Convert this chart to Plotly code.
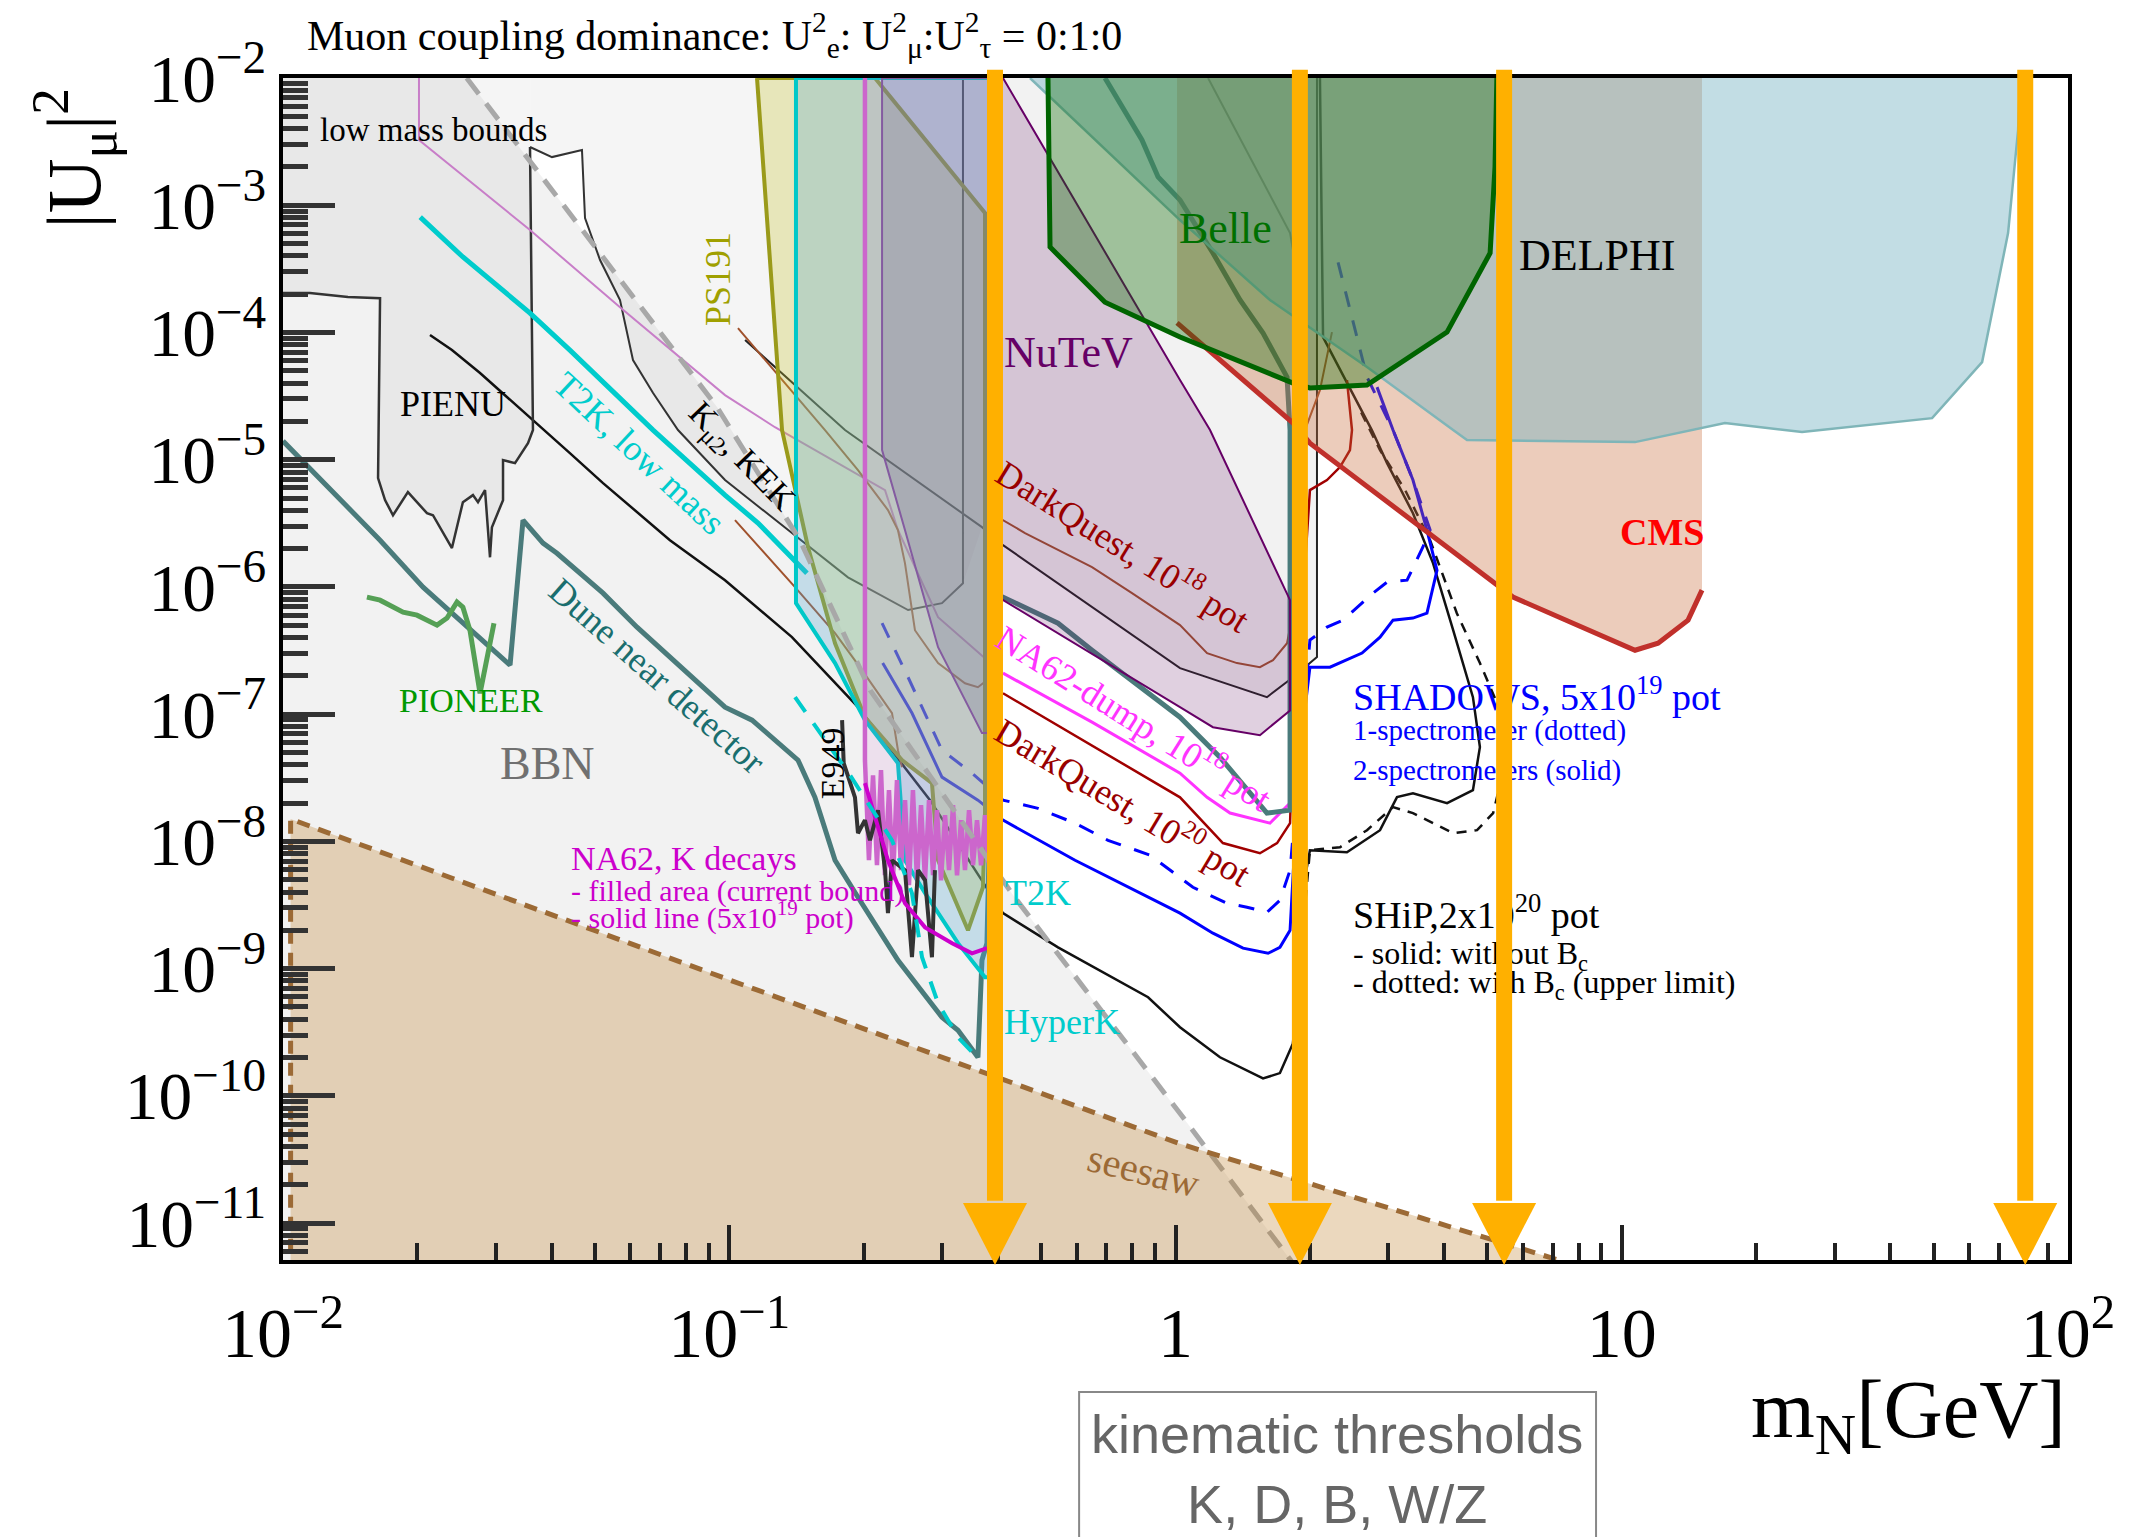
import numpy as np
import plotly.graph_objects as go

SERIF = "Liberation Serif"
SANS = "Liberation Sans"

X_RANGE = [-2.0, 2.0]      # log10(m_N / GeV)
Y_RANGE = [-11.29, -2.0]   # log10(|U_mu|^2)
U_TOP = 1e-2
U_BOT = 4e-12
M_LEFT = 0.0095

# ---------------- contours: m_N [GeV] vs |U_mu|^2 ----------------
bbn_m = [0.0258, 0.0939, 0.144, 0.207, 0.436, 1.023, 1.82]
bbn_u = [1.0e-2, 2.59e-5, 2.33e-6, 1.54e-7, 3.64e-9, 7.3e-11, 5.0e-12]

seesaw_m = [0.0104, 0.0104, 0.0978, 1.023, 7.38]
seesaw_u = [4.0e-12, 1.5e-8, 8.4e-10, 4.2e-11, 5.0e-12]

pienu_m = [0.0095, 0.01149, 0.01398, 0.0165, 0.01633, 0.01693, 0.01764, 0.01905, 0.02102,
           0.02168, 0.02391, 0.0253, 0.02665, 0.02735, 0.02836, 0.0291, 0.02939, 0.03112,
           0.03112, 0.03311, 0.0354, 0.03632, 0.03577]
pienu_u = [2.04e-4, 2.04e-4, 1.90e-4, 1.86e-4, 7.16e-6, 4.81e-6, 3.66e-6, 5.56e-6, 3.80e-6,
           3.66e-6, 2.02e-6, 4.64e-6, 5.27e-6, 4.64e-6, 5.77e-6, 1.71e-6, 2.95e-6, 4.81e-6,
           9.93e-6, 9.40e-6, 1.35e-5, 1.71e-5, 2.87e-3]

kmu2_m = [0.03577, 0.04006, 0.04677, 0.04751, 0.05134, 0.05691, 0.06085, 0.0675, 0.07676,
          0.09784, 0.1382, 0.1845, 0.2516, 0.2997, 0.334, 0.334]
kmu2_u = [2.87e-3, 2.39e-3, 2.72e-3, 7.93e-4, 3.71e-4, 1.80e-4, 6.07e-5, 3.34e-5, 1.71e-5,
          6.92e-6, 2.65e-6, 1.19e-6, 6.58e-7, 7.46e-7, 1.07e-6, 1.0e-2]

env_m = [0.1085, 0.1817, 0.3684, 0.4106, 1.0235, 1.603, 1.834, 2.075, 2.075]
env_u = [8.71e-5, 1.71e-5, 2.95e-6, 2.13e-6, 2.30e-7, 1.36e-7, 1.95e-7, 2.81e-7, 1.0e-2]

ps191_m = [0.1154, 0.1313, 0.1501, 0.1726, 0.2014, 0.2438, 0.2846, 0.2937, 0.3428, 0.3703,
           0.3742, 0.3742, 0.2121, 0.1154]
ps191_u = [1e-2, 1.71e-5, 2.06e-6, 3.61e-7, 9.46e-8, 4.35e-8, 2.87e-8, 7.11e-9, 2.0e-9, 4.36e-9,
           1.67e-8, 8.69e-4, 1e-2, 1e-2]

t2k_m = [0.1411, 0.1411, 0.1726, 0.2014, 0.2388, 0.2476, 0.2747, 0.3255, 0.3742, 0.384, 0.384, 0.1411]
t2k_u = [1e-2, 7.46e-7, 2.52e-7, 8.97e-8, 4.12e-8, 7.11e-9, 3.92e-9, 1.585e-9, 8.55e-10, 8.55e-10, 1e-2, 1e-2]

charm_m = [0.220, 0.220, 0.2476, 0.2937, 0.3684, 0.384, 0.384, 0.220]
charm_u = [1e-2, 1.19e-5, 2.80e-6, 3.36e-7, 7.10e-8, 7.10e-8, 1e-2, 1e-2]

na62k_m = [0.2014, 0.2014, 0.2056, 0.2100, 0.2143, 0.2188, 0.2233, 0.2280, 0.2328, 0.2376,
           0.2426, 0.2477, 0.2528, 0.2580, 0.2635, 0.2690, 0.2746, 0.2803, 0.2862, 0.2921,
           0.2982, 0.3045, 0.3108, 0.3173, 0.3239, 0.3307, 0.3375, 0.3446, 0.3518, 0.3591,
           0.3666, 0.3742, 0.3800, 0.385, 0.385]
na62k_u = [1e-2, 4.35e-8, 7.11e-9, 3.31e-8, 6.5e-9, 3.63e-8, 5.42e-9, 2.53e-8, 4.95e-9, 3.03e-8,
           5.94e-9, 2.11e-8, 4.53e-9, 2.53e-8, 4.95e-9, 1.93e-8, 4.95e-9, 2.11e-8, 5.42e-9, 1.76e-8,
           4.95e-9, 1.61e-8, 5.94e-9, 1.93e-8, 5.42e-9, 1.47e-8, 5.94e-9, 1.76e-8, 6.5e-9, 1.47e-8,
           6.5e-9, 1.61e-8, 7.11e-9, 7.11e-9, 1e-2]

na62proj_m = [0.2014, 0.2268, 0.2476, 0.2747, 0.3157, 0.35, 0.378]
na62proj_u = [2.87e-8, 7.11e-9, 3.27e-9, 2.11e-9, 1.585e-9, 1.32e-9, 1.45e-9]

e949_m = [0.179, 0.1805, 0.1913, 0.1943, 0.2014, 0.2067, 0.2154, 0.2234, 0.2268, 0.2316,
          0.2476, 0.2567, 0.2649, 0.2747, 0.2846, 0.289]
e949_u = [8.97e-8, 4.12e-8, 2.22e-8, 1.16e-8, 1.47e-8, 1.02e-8, 1.76e-8, 5.94e-9, 2.73e-9, 7.11e-9,
          5.94e-9, 1.23e-9, 5.94e-9, 4.95e-9, 1.23e-9, 5.94e-9]

nutev_m = [0.384, 0.4106, 1.0235, 1.195, 1.806, 1.806, 1.546, 1.213, 1.0235, 0.4106, 0.384]
nutev_u = [1e-2, 1e-2, 4.23e-5, 1.71e-5, 7.87e-7, 1.07e-7, 6.84e-8, 7.90e-8, 1.135e-7, 7.87e-7, 9.1e-7]

belle_m = [0.5179, 0.5234, 0.695, 1.0235, 1.834, 2.001, 2.686, 4.06, 5.07, 5.20, 5.25]
belle_u = [1e-2, 4.69e-4, 1.73e-4, 9.2e-5, 4.0e-5, 3.66e-5, 3.86e-5, 1.007e-4, 4.21e-4, 2.0e-3, 1e-2]

cms_m = [1.008, 1.008, 1.834, 2.001, 5.705, 10.71, 12.06, 14.08, 15.13, 15.13]
cms_u = [1e-2, 1.19e-4, 1.94e-5, 1.35e-5, 8.32e-7, 3.18e-7, 3.61e-7, 5.48e-7, 9.44e-7, 1e-2]

delphi_m = [0.472, 1.0235, 1.628, 2.686, 4.19, 4.50, 10.71, 17.03, 25.35, 49.6, 64.2, 73.4, 77.3, 78.1]
delphi_u = [1e-2, 7.65e-4, 1.80e-4, 5.35e-5, 1.71e-5, 1.43e-5, 1.375e-5, 1.94e-5, 1.65e-5, 2.12e-5,
            5.85e-5, 6.04e-4, 3.90e-3, 1e-2]

grey_m = [1.183, 1.806, 1.834]
grey_u = [1e-2, 6.04e-4, 4.45e-4]

ship_m = [0.02135, 0.02391, 0.02764, 0.03577, 0.04394, 0.05214, 0.07364, 0.09784, 0.1382, 0.1943,
          0.2818, 0.4106, 0.5454, 0.868, 1.0235, 1.258, 1.571, 1.714, 1.834, 1.91, 2.001, 2.422,
          2.873, 3.136, 3.405, 4.06, 4.64, 4.81, 4.64, 4.19, 3.776, 3.405, 2.979, 2.754, 2.141, 2.107]
ship_u = [9.54e-5, 7.27e-5, 4.80e-5, 2.16e-5, 1.127e-5, 6.55e-6, 2.33e-6, 1.13e-6, 4.03e-7, 1.135e-7,
          2.11e-8, 2.73e-9, 1.47e-9, 5.96e-10, 3.46e-10, 2.01e-10, 1.37e-10, 1.51e-10, 2.59e-10, 3.45e-9,
          8.53e-9, 8.22e-9, 1.225e-8, 2.23e-8, 2.39e-8, 2.0e-8, 2.53e-8, 5.51e-8, 1.36e-7, 4.57e-7,
          1.54e-6, 3.80e-6, 9.40e-6, 1.71e-5, 9.2e-5, 1e-2]

shipbc_m = [1.834, 2.001, 2.337, 2.686, 3.072, 3.405, 4.19, 4.74, 5.15, 5.50, 5.34, 4.81, 4.27,
            3.72, 3.27, 2.873, 2.591]
shipbc_u = [2.59e-10, 8.53e-9, 9.0e-9, 1.225e-8, 1.86e-8, 1.67e-8, 1.16e-8, 1.225e-8, 1.67e-8,
            4.35e-8, 1.07e-7, 2.52e-7, 6.22e-7, 2.33e-6, 5.77e-6, 1.19e-5, 2.45e-5]

dune_m = [0.0100, 0.01363, 0.01650, 0.02060, 0.03227, 0.03450, 0.03825, 0.04111, 0.05214, 0.06213,
          0.09784, 0.1125, 0.1266, 0.1426, 0.1556, 0.1726, 0.1943, 0.2388, 0.2997, 0.3255, 0.3608,
          0.3684, 0.3780, 0.394, 0.4106, 0.5454, 0.650, 1.0235, 1.258, 1.603, 1.806, 1.806, 1.778,
          1.571, 1.395, 1.213, 1.0235, 0.914, 0.841, 0.759, 0.695]
dune_u = [1.40e-5, 4.56e-6, 2.33e-6, 9.96e-7, 2.43e-7, 3.35e-6, 2.21e-6, 1.84e-6, 8.93e-7, 4.83e-7,
          1.135e-7, 8.97e-8, 6.25e-8, 4.35e-8, 2.22e-8, 7.11e-9, 3.64e-9, 1.164e-9, 4.15e-10, 3.28e-10,
          2.01e-10, 1.164e-9, 1.585e-9, 7.87e-7, 8.32e-7, 5.19e-7, 3.18e-7, 9.46e-8, 4.59e-8, 1.67e-8,
          1.76e-8, 1.71e-5, 4.46e-5, 9.89e-5, 1.80e-4, 4.21e-4, 1.10e-3, 1.67e-3, 3.26e-3, 5.92e-3, 1.0e-2]

t2klow_m = [0.0203, 0.0253, 0.03577, 0.04394, 0.0675, 0.09784, 0.1160, 0.1266, 0.1493]
t2klow_u = [8.07e-4, 3.92e-4, 1.42e-4, 7.27e-5, 1.71e-5, 5.27e-6, 3.18e-6, 2.33e-6, 1.28e-6]

hyperk_m = [0.1404, 0.1865, 0.2316, 0.2567, 0.2704, 0.2937, 0.3255, 0.3590]
hyperk_u = [1.36e-7, 3.31e-8, 1.02e-8, 3.92e-9, 1.23e-9, 5.35e-10, 2.89e-10, 2.01e-10]

pioneer_m = [0.01542, 0.0165, 0.01858, 0.01997, 0.02214, 0.02331, 0.02454, 0.0253, 0.02624, 0.02764, 0.0297]
pioneer_u = [8.32e-7, 7.87e-7, 6.33e-7, 6.0e-7, 5.01e-7, 5.69e-7, 7.6e-7, 6.93e-7, 4.57e-7, 1.46e-7, 5.19e-7]

orchid_m = [0.02017, 0.02017, 0.03577, 0.05691, 0.09784, 0.1266, 0.2234, 0.2388, 0.2937, 0.378]
orchid_u = [1e-2, 3.26e-3, 6.38e-4, 1.58e-4, 3.22e-5, 1.80e-5, 5.77e-6, 2.80e-6, 5.79e-7, 2.66e-7]

dq18_m = [0.1046, 0.1639, 0.1943, 0.2268, 0.2388, 0.2476, 0.2607, 0.2937, 0.3375, 0.3608, 0.378,
          0.394, 0.394, 0.4106, 0.46, 0.5454, 0.65, 0.799, 1.0235, 1.177, 1.373, 1.546, 1.654,
          1.778, 1.824, 1.901, 1.95, 2.107, 2.242]
dq18_u = [1.08e-4, 1.71e-5, 8.28e-6, 4.02e-6, 2.80e-6, 1.54e-6, 4.57e-7, 2.52e-7, 1.75e-7, 1.63e-7,
          1.85e-7, 1.9e-7, 3.4e-6, 3.35e-6, 2.65e-6, 1.95e-6, 1.43e-6, 8.93e-7, 5.01e-7, 3.02e-7,
          2.52e-7, 2.34e-7, 2.66e-7, 3.61e-7, 5.79e-7, 1.78e-6, 1.71e-5, 3.52e-5, 1.007e-4]

dq20_m = [0.4106, 0.65, 1.0235, 1.277, 1.546, 1.689, 1.806, 1.824, 2.001, 2.185, 2.337, 2.46, 2.486, 2.422]
dq20_u = [1.46e-7, 5.7e-8, 2.22e-8, 9.7e-9, 8.07e-9, 9.7e-9, 1.39e-8, 4.12e-8, 5.77e-6, 6.92e-6,
          8.75e-6, 1.19e-5, 1.71e-5, 4.23e-5]
dq20low_m = [0.103, 0.1404, 0.1726, 0.1984, 0.2316, 0.2388, 0.2438]
dq20low_u = [3.35e-6, 9.96e-7, 4.34e-7, 2.22e-7, 1.02e-7, 5.21e-8, 3.83e-8]

dump_m = [0.4106, 0.65, 1.0235, 1.177, 1.325, 1.628, 1.806, 1.824]
dump_u = [2.10e-7, 8.65e-8, 3.44e-8, 2.22e-8, 1.67e-8, 1.39e-8, 2.0e-8, 6.25e-8]

shadows_m = [0.2207, 0.2567, 0.2997, 0.3608, 0.4106, 0.5955, 1.0235, 1.213, 1.417, 1.612, 1.714,
             1.806, 1.901, 2.001, 2.219, 2.618, 2.873, 3.072, 3.405, 3.66, 3.855, 3.66, 3.405, 3.072, 2.829]
shadows_u = [2.52e-7, 1.02e-7, 3.2e-8, 2.11e-8, 1.47e-8, 7.11e-9, 2.73e-9, 1.90e-9, 1.45e-9, 1.32e-9,
             1.47e-9, 2.0e-9, 5.2e-8, 2.34e-7, 2.34e-7, 3.02e-7, 4.03e-7, 5.48e-7, 5.69e-7, 6.22e-7,
             1.35e-6, 2.80e-6, 6.92e-6, 1.71e-5, 3.72e-5]
shadows1_m = [0.220, 0.2516, 0.2997, 0.35, 0.4106, 0.492, 0.5955, 0.706, 0.877, 1.094, 1.304, 1.446,
              1.603, 1.714, 1.806, 2.001, 2.185, 2.373, 2.771, 2.979, 3.303, 3.585, 3.72, 3.405,
              3.072, 2.686, 2.277]
shadows1_u = [5.19e-7, 1.95e-7, 5.21e-8, 3.44e-8, 2.11e-8, 1.82e-8, 1.39e-8, 1.02e-8, 7.8e-9, 4.36e-9,
              3.27e-9, 3.04e-9, 2.77e-9, 3.45e-9, 5.94e-9, 3.82e-7, 4.83e-7, 5.48e-7, 8.93e-7, 1.09e-6,
              1.13e-6, 2.06e-6, 2.80e-6, 6.92e-6, 1.71e-5, 4.46e-5, 4.45e-4]

# production thresholds: K, D, B, W/Z
threshold_m = [0.394, 1.90, 5.45, 80.2]

fig = go.Figure()


def area(m, u, fill, color=None, width=0, dash=None):
    fig.add_trace(go.Scatter(
        x=m, y=u, mode="lines", fill="toself", fillcolor=fill,
        line=dict(color=color or "rgba(0,0,0,0)", width=width, dash=dash),
        hoverinfo="skip", showlegend=False))


def curve(m, u, color, width, dash=None):
    fig.add_trace(go.Scatter(
        x=m, y=u, mode="lines", line=dict(color=color, width=width, dash=dash),
        hoverinfo="skip", showlegend=False))


# light grey bounds in the background
area([M_LEFT] + bbn_m + [M_LEFT], [U_TOP] + bbn_u + [U_BOT], "rgba(0,0,0,0.05)")
area(pienu_m + [pienu_m[-1], M_LEFT], pienu_u + [U_TOP, U_TOP], "rgba(0,0,0,0.04)")
area(kmu2_m + [kmu2_m[0]], kmu2_u + [U_TOP], "rgba(0,0,0,0.04)")
area([kmu2_m[-1]] + env_m[2:] + [kmu2_m[-1]], [kmu2_u[-2]] + env_u[2:] + [U_TOP], "rgba(0,0,0,0.05)")

# thin curves lying under the coloured regions
curve(ship_m, ship_u, "#111111", 2.5)
curve(shipbc_m, shipbc_u, "#111111", 2.5, "10px,8px")
curve(env_m, env_u, "#222222", 2)
curve(kmu2_m, kmu2_u, "#333333", 2)
curve(pienu_m, pienu_u, "#333333", 2.5)
curve(orchid_m, orchid_u, "#c87ec8", 2)
curve(dq18_m, dq18_u, "#a0522d", 2)
curve(dq20low_m, dq20low_u, "#a0522d", 2)
curve(dq20_m, dq20_u, "#a00000", 2.5)
curve(dump_m, dump_u, "#ff33ff", 3)
curve(shadows_m, shadows_u, "#0000ff", 3)
curve(shadows1_m, shadows1_u, "#0000ff", 3, "16px,14px")
curve(grey_m, grey_u, "#8c8c8c", 2)
curve(dune_m, dune_u, "#4a7b7b", 5)
curve(t2klow_m, t2klow_u, "#00cccc", 5)
curve(pioneer_m, pioneer_u, "#55a055", 5)

# coloured exclusion regions
area(ps191_m, ps191_u, "rgba(200,195,50,0.30)", "#9a9a1a", 4)
area(t2k_m, t2k_u, "rgba(90,170,210,0.30)", "#00c8c8", 4)
area(charm_m, charm_u, "rgba(90,100,130,0.25)", "#7a5a9a", 2)
area(na62k_m, na62k_u, "rgba(204,102,204,0.12)", "#cc66cc", 4.5)
area(nutev_m, nutev_u, "rgba(100,20,100,0.20)", "#660066", 2)
area(cms_m, cms_u, "rgba(200,110,60,0.35)")
curve(cms_m[1:-1], cms_u[1:-1], "#c0302b", 5)
area(delphi_m + [delphi_m[0]], delphi_u + [U_TOP], "rgba(120,180,195,0.45)")
curve(delphi_m, delphi_u, "#7fb5b8", 2.5)
area(belle_m + [belle_m[0]], belle_u + [U_TOP], "rgba(10,105,0,0.36)")
curve(belle_m, belle_u, "#006400", 5)

# curves drawn on top
curve(e949_m, e949_u, "#333333", 4)
curve(na62proj_m, na62proj_u, "#cc00cc", 4)
curve(hyperk_m, hyperk_u, "#00cccc", 4, "18px,14px")

# seesaw band and BBN boundary
curve(bbn_m, bbn_u, "#a8a8a8", 5, "20px,12px")
area(seesaw_m + [seesaw_m[0]], seesaw_u + [seesaw_u[0]], "rgba(190,125,40,0.30)")
curve(seesaw_m, seesaw_u, "#9c6a35", 5, "13px,9px")


def text_block(x, ys, texts, sizes, color):
    fig.add_trace(go.Scatter(
        x=[x] * len(ys), y=ys, mode="text", text=texts, textposition="middle right",
        textfont=dict(family=SERIF, size=sizes, color=color),
        hoverinfo="skip", showlegend=False, cliponaxis=False))


text_block(0.0442, [6.98e-9, 3.92e-9, 2.40e-9],
           ["NA62, K decays", "- filled area (current bound)", "- solid line (5x10<sup>19</sup> pot)"],
           [34, 30, 30], "#cc00cc")
text_block(2.50, [1.29e-7, 7.10e-8, 3.44e-8],
           ["SHADOWS, 5x10<sup>19</sup> pot", "1-spectrometer (dotted)", "2-spectrometers (solid)"],
           [38, 29, 29], "#0000ff")
text_block(2.50, [2.49e-9, 1.25e-9, 7.4e-10],
           ["SHiP,2x10<sup>20</sup> pot", "- solid: without B<sub>c</sub>",
            "- dotted: with B<sub>c</sub> (upper limit)"],
           [38, 32, 32], "#000000")

# kinematic-threshold arrows (paper coordinates)
ORANGE = "#ffb000"
PLOT_W, PLOT_H = 1785.0, 1182.0
hw = 32 / PLOT_W
y_tip = -5 / PLOT_H
y_base = y_tip + 62 / PLOT_H
shapes = []
for m in threshold_m:
    xp = (np.log10(m) - X_RANGE[0]) / (X_RANGE[1] - X_RANGE[0])
    shapes.append(dict(type="line", xref="paper", yref="paper", x0=xp, x1=xp,
                       y0=y_base + 0.002, y1=1.007, line=dict(color=ORANGE, width=16)))
    shapes.append(dict(type="path", xref="paper", yref="paper",
                       path=f"M {xp - hw},{y_base} L {xp + hw},{y_base} L {xp},{y_tip} Z",
                       fillcolor=ORANGE, line=dict(width=0)))
shapes.append(dict(type="rect", xref="paper", yref="paper", x0=0.446, x1=0.7356,
                   y0=-0.30, y1=-0.1117, line=dict(color="#888888", width=2)))

annotations = []


def note(text, x, y, size, color="#000000", angle=0, xanchor="center", family=SERIF):
    annotations.append(dict(text=text, x=x, y=y, xref="x", yref="y", showarrow=False,
                            textangle=angle, xanchor=xanchor, yanchor="middle",
                            font=dict(family=family, size=size, color=color)))


note("low mass bounds", -1.9216, -2.409, 33, xanchor="left")
note("PIENU", -1.742, -4.56, 36, xanchor="left")
note("T2K, low mass", -1.2022, -4.948, 36, "#00cccc", 43)
note("K<sub>μ2</sub>, KEK", -0.9737, -4.99, 34, "#000000", 46)
note("PS191", -1.025, -3.58, 36, "#a0a000", -90)
note("NuTeV", -0.3888, -4.16, 44, "#660066", xanchor="left")
note("Belle", 0.0034, -3.18, 44, "#007000", xanchor="left")
note("DELPHI", 0.7653, -3.392, 44, xanchor="left")
note("<b>CMS</b>", 1.0902, -5.569, 38, "#ff0000")
note("DarkQuest, 10<sup>18</sup> pot", -0.1154, -5.664, 36, "#990000", 32)
note("NA62-dump, 10<sup>18</sup> pot", -0.0907, -7.016, 36, "#ff33ff", 32)
note("DarkQuest, 10<sup>20</sup> pot", -0.1154, -7.676, 36, "#990000", 31)
note("Dune near detector", -1.1619, -6.701, 36, "#1a6e6e", 41.5)
note("E949", -0.7697, -7.385, 34, "#000000", -90)
note("PIONEER", -1.7445, -6.89, 34, "#009900", xanchor="left")
note("BBN", -1.518, -7.385, 46, "#707070", xanchor="left")
note("T2K", -0.3866, -8.407, 36, "#00cccc", xanchor="left")
note("HyperK", -0.389, -9.421, 36, "#00cccc", xanchor="left")
note("seesaw", -0.0728, -10.585, 40, "#9c6a35", 14)

# titles outside the frame
annotations.append(dict(
    text="Muon coupling dominance: U<sup>2</sup><sub>e</sub>: U<sup>2</sup><sub>μ</sub>:U<sup>2</sup><sub>τ</sub> = 0:1:0",
    x=0.0123, y=1.036, xref="paper", yref="paper", xanchor="left", yanchor="middle",
    showarrow=False, font=dict(family=SERIF, size=42, color="#000000")))
annotations.append(dict(
    text="|U<sub>μ</sub>|<sup>2</sup>", x=-0.117, y=0.932, xref="paper", yref="paper",
    xanchor="center", yanchor="middle", textangle=-90, showarrow=False,
    font=dict(family=SERIF, size=76, color="#000000")))
annotations.append(dict(
    text="m<sub>N</sub>[GeV]", x=1.0, y=-0.131, xref="paper", yref="paper",
    xanchor="right", yanchor="middle", showarrow=False,
    font=dict(family=SERIF, size=82, color="#000000")))
annotations.append(dict(
    text="kinematic thresholds<br>K, D, B, W/Z", x=0.5905, y=-0.177, xref="paper", yref="paper",
    xanchor="center", yanchor="middle", showarrow=False,
    font=dict(family=SANS, size=54, color="#666666")))

axis_common = dict(type="log", showgrid=False, zeroline=False, showline=True, mirror=True,
                   linecolor="#000000", linewidth=4, ticks="inside", dtick=1,
                   exponentformat="power")

fig.update_layout(
    width=2133, height=1537, autosize=False,
    margin=dict(l=283, r=65, t=78, b=277),
    paper_bgcolor="#ffffff", plot_bgcolor="#ffffff",
    font=dict(family=SERIF),
    xaxis=dict(range=X_RANGE, ticklen=35, tickwidth=4, tickcolor="#222222",
               ticklabelstandoff=12, tickfont=dict(family=SERIF, size=56, color="#000000"),
               minor=dict(ticks="inside", ticklen=17, tickwidth=4, tickcolor="#222222", dtick="D1"),
               **axis_common),
    yaxis=dict(range=Y_RANGE, ticklen=52, tickwidth=5, tickcolor="#333333",
               ticklabelstandoff=2, tickfont=dict(family=SERIF, size=54, color="#000000"),
               minor=dict(ticks="inside", ticklen=25, tickwidth=5, tickcolor="#333333", dtick="D1"),
               **axis_common),
    shapes=shapes,
    annotations=annotations,
)

fig.write_html("out.html")
